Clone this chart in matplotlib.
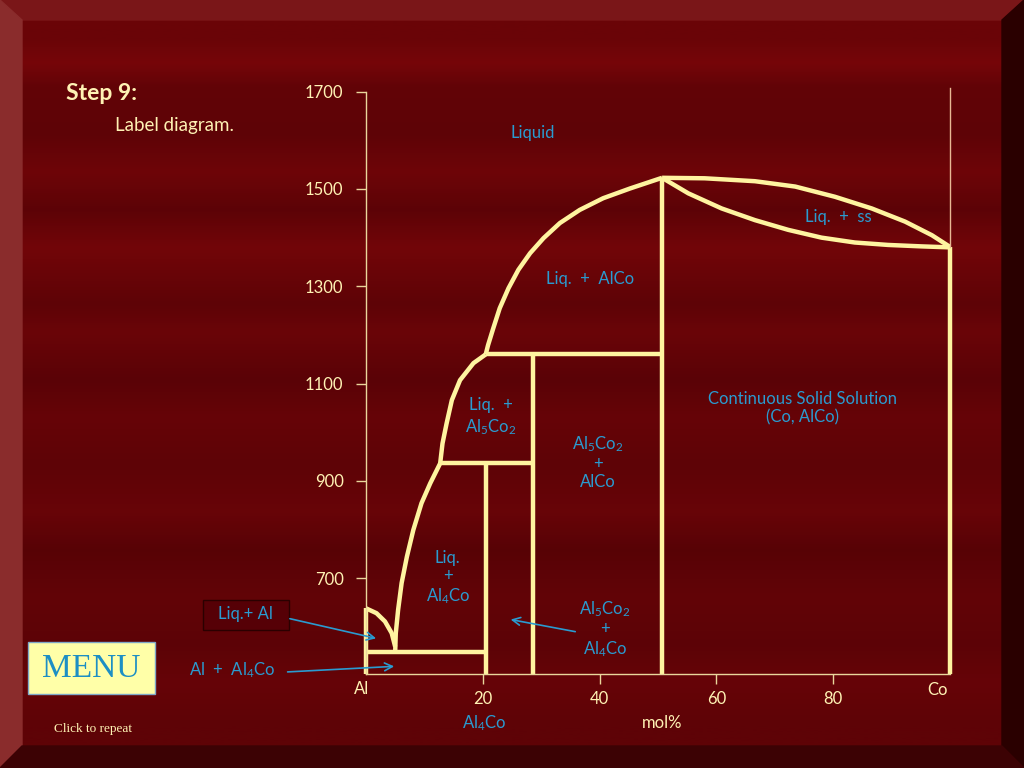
import numpy as np
import matplotlib
matplotlib.use("Agg")
import matplotlib.pyplot as plt
from matplotlib.patches import Polygon, Rectangle

plt.rcParams['font.family'] = ['Lato', 'DejaVu Sans']
plt.rcParams['mathtext.fontset'] = 'custom'
plt.rcParams['mathtext.rm'] = 'Lato'
plt.rcParams['mathtext.it'] = 'Lato:italic'

# phase boundaries (mol% Co, temperature)
liq_left_x = [50.7, 45.2, 40.6, 36.6, 33.2, 30.4, 28.1, 26.1, 24.4, 22.9, 21.8, 20.9, 20.5]
liq_left_t = [1523, 1501, 1481, 1457, 1430, 1399, 1368, 1334, 1296, 1255, 1214, 1179, 1160]
liq_mid_x = [20.5, 18.4, 16.1, 14.7, 13.8, 13.1, 12.7]
liq_mid_t = [1160, 1142, 1107, 1066, 1018, 977, 936]
liq_low_x = [12.7, 11.0, 9.5, 8.1, 7.0, 6.1, 5.5, 5.1, 5.0]
liq_low_t = [936, 895, 854, 799, 744, 690, 635, 587, 549]
al_curve_x = [0.0, 1.8, 3.25, 4.4, 5.0]
al_curve_t = [638, 628, 611, 587, 559]
liq_right_x = [50.7, 58.0, 66.6, 73.5, 80.3, 86.6, 92.3, 96.9, 100.0]
liq_right_t = [1523, 1522, 1516, 1505, 1484, 1460, 1433, 1405, 1381]
sol_right_x = [50.7, 55.2, 60.9, 66.6, 72.3, 78.0, 83.7, 89.4, 95.2, 100.0]
sol_right_t = [1523, 1491, 1460, 1436, 1416, 1400, 1390, 1385, 1382, 1380]

t_bottom = 503
t_peri_hi = 1160
t_peri_mid = 936
t_eut = 549
x_alco = 50.7
x_al5co2 = 28.6
x_al4co = 20.5

yticks = [700, 900, 1100, 1300, 1500, 1700]
xticks = [20, 40, 60, 80]

line_c = '#fff4a0'
axis_c = '#ead79c'
blue = '#2a9bd0'
cream = '#fff2b4'

fig = plt.figure(figsize=(10.24, 7.68), dpi=100)

# slide background
bg = fig.add_axes([0, 0, 1, 1])
bg.set_xlim(0, 1024)
bg.set_ylim(768, 0)
bg.axis('off')
ys = [20, 45, 70, 120, 160, 200, 240, 300, 330, 380, 420, 470, 520, 560, 610, 660, 700, 746]
vals = [0.45, 0.6, 0.35, 0.3, 0.5, 0.28, 0.55, 0.3, 0.45, 0.25, 0.4, 0.3, 0.42, 0.22, 0.35, 0.28, 0.4, 0.3]
rows = np.interp(np.arange(768), ys, vals)
dark = np.array([70, 0, 4]) / 255
bright = np.array([150, 10, 12]) / 255
img = dark + (bright - dark) * rows[:, None]
bg.imshow(img[:, None, :], extent=(22, 1002, 746, 20), aspect='auto', zorder=0)
bg.add_patch(Polygon([(0, 0), (1024, 0), (1002, 20), (22, 20)], color='#7a1618', zorder=1))
bg.add_patch(Polygon([(0, 0), (22, 20), (22, 746), (0, 768)], color='#8a2c2c', zorder=1))
bg.add_patch(Polygon([(1024, 0), (1002, 20), (1002, 746), (1024, 768)], color='#2a0000', zorder=1))
bg.add_patch(Polygon([(0, 768), (22, 746), (1002, 746), (1024, 768)], color='#3c0204', zorder=1))

bg.text(66, 93, 'Step 9:', color=cream, fontsize=16.5, fontweight='bold', va='center', ha='left')
bg.text(115, 126, 'Label diagram.', color=cream, fontsize=13.5, va='center', ha='left')

bg.add_patch(Rectangle((28, 642), 127, 52, facecolor='#ffffa8', edgecolor='#7fa8c8', lw=1, zorder=2))
bg.text(91, 669, 'MENU', color='#1d8fc4', fontsize=24, family='Liberation Serif',
        ha='center', va='center', zorder=3)
bg.text(93, 729, 'Click to repeat', color=cream, fontsize=9.5, family='Liberation Serif',
        ha='center', va='center')

bg.add_patch(Rectangle((203, 600), 86, 30, facecolor='#560006', edgecolor='#2a0000', lw=1, zorder=2))
bg.text(245, 614, 'Liq.+ Al', color=blue, fontsize=12, ha='center', va='center', zorder=3)
bg.text(232, 670, 'Al  +  Al$_4$Co', color=blue, fontsize=12, ha='center', va='center')

bg.text(362, 689, 'Al', color=cream, fontsize=12, ha='center', va='center')
bg.text(938, 690, 'Co', color=cream, fontsize=12, ha='center', va='center')
bg.text(484, 723, 'Al$_4$Co', color=blue, fontsize=12, ha='center', va='center')
bg.text(662, 723, 'mol%', color=cream, fontsize=12, ha='center', va='center')

# phase diagram
ax = fig.add_axes([366 / 1024, 1 - 674 / 768, 584 / 1024, (674 - 91.7) / 768])
ax.set_facecolor('none')
ax.set_xlim(0, 100)
ax.set_ylim(t_bottom, 1700)
for s in ['top', 'right']:
    ax.spines[s].set_visible(False)
for s in ['left', 'bottom']:
    ax.spines[s].set_color(axis_c)
    ax.spines[s].set_linewidth(1)
ax.set_yticks(yticks)
ax.set_xticks(xticks)
ax.tick_params(axis='y', colors=axis_c, labelcolor=cream, length=7.2, width=1, pad=9, labelsize=12)
ax.tick_params(axis='x', colors=axis_c, labelcolor=cream, length=7.2, width=1, pad=5, labelsize=12)

kw = dict(color=line_c, lw=3.2, solid_capstyle='butt', solid_joinstyle='round', clip_on=False)
ax.plot(liq_left_x, liq_left_t, **kw)
ax.plot(liq_mid_x, liq_mid_t, **kw)
ax.plot(liq_low_x, liq_low_t, **kw)
ax.plot(al_curve_x, al_curve_t, **kw)
ax.plot(liq_right_x, liq_right_t, **kw)
ax.plot(sol_right_x, sol_right_t, **kw)
ax.plot([liq_left_x[-1], x_alco], [t_peri_hi, t_peri_hi], **kw)
ax.plot([liq_mid_x[-1], x_al5co2], [t_peri_mid, t_peri_mid], **kw)
ax.plot([0, x_al4co], [t_eut, t_eut], **kw)
ax.plot([x_alco, x_alco], [t_bottom, liq_left_t[0]], **kw)
ax.plot([x_al5co2, x_al5co2], [t_bottom, t_peri_hi], **kw)
ax.plot([x_al4co, x_al4co], [t_bottom, t_peri_mid], **kw)
ax.plot([0, 0], [t_bottom, al_curve_t[0]], **kw)
ax.plot([100, 100], [t_bottom, liq_right_t[-1]], **kw)
ax.plot([100, 100], [liq_right_t[-1], 1707], color='#e8b894', lw=1, clip_on=False)

tkw = dict(color=blue, fontsize=12, ha='center', va='center')
ax.text(28.6, 1615, 'Liquid', **tkw)
ax.text(38.4, 1315, 'Liq.  +  AlCo', **tkw)
ax.text(80.8, 1442, 'Liq.  +  ss', **tkw)
ax.text(74.7, 1049, 'Continuous Solid Solution\n(Co, AlCo)', linespacing=1.2, **tkw)
ax.text(21.4, 1031, 'Liq.  +\nAl$_5$Co$_2$', linespacing=1.25, **tkw)
ax.text(39.7, 939, 'Al$_5$Co$_2$\n+\nAlCo', linespacing=1.15, **tkw)
ax.text(14.0, 700, 'Liq.\n+\nAl$_4$Co', linespacing=1.15, **tkw)
ax.text(40.9, 595, 'Al$_5$Co$_2$\n+\nAl$_4$Co', linespacing=1.15, **tkw)

akw = dict(arrowstyle='->', color=blue, lw=1.2, mutation_scale=14)
ax.annotate('', xy=(24.3, 616), xytext=(36.3, 589), arrowprops=akw, annotation_clip=False)
ax.annotate('', xy=(2.2, 575), xytext=(-13.5, 618), arrowprops=akw, annotation_clip=False)
ax.annotate('', xy=(5.3, 519), xytext=(-13.9, 507), arrowprops=akw, annotation_clip=False)

fig.savefig('out.png', dpi=100, facecolor='#3a0004')
